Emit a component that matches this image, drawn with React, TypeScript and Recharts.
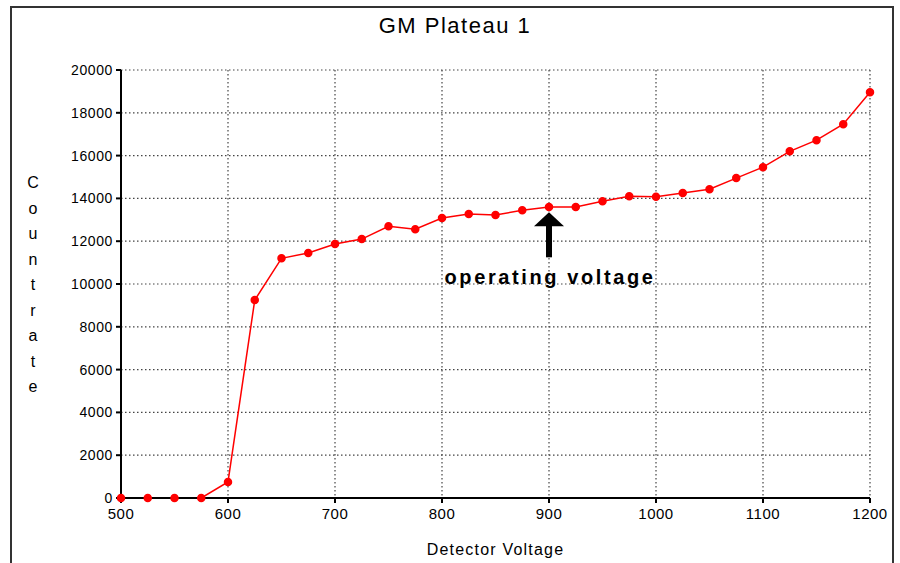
import React from 'react';
import { LineChart, Line, XAxis, YAxis, CartesianGrid, ReferenceDot } from 'recharts';

const voltages = [
  500, 525, 550, 575, 600, 625, 650, 675, 700, 725, 750, 775, 800, 825, 850,
  875, 900, 925, 950, 975, 1000, 1025, 1050, 1075, 1100, 1125, 1150, 1175, 1200,
];
const countRates = [
  0, 0, 0, 0, 750, 9250, 11200, 11450, 11870, 12100, 12700, 12560, 13080, 13270, 13220,
  13450, 13600, 13600, 13870, 14100, 14080, 14250, 14430, 14950, 15460, 16200, 16720, 17470, 18960,
];
const xTicks = [500, 600, 700, 800, 900, 1000, 1100, 1200];
const yTicks = [0, 2000, 4000, 6000, 8000, 10000, 12000, 14000, 16000, 18000, 20000];
const yLabelLetters = ['C', 'o', 'u', 'n', 't', 'r', 'a', 't', 'e'];

const arrowVoltage = 900;
const arrowTipRate = 13350;
const annotationText = 'operating voltage';

const data = voltages.map((v, i) => ({ voltage: v, rate: countRates[i] }));

const font = '"Liberation Sans", Arial, sans-serif';

// arrow pointing up at the chosen voltage, with the caption under it
function OperatingArrow(props: any) {
  const { cx, cy } = props;
  if (cx == null || cy == null) return null;
  return (
    <g>
      <polygon points={`${cx},${cy} ${cx - 15},${cy + 14} ${cx + 15},${cy + 14}`} fill="#000" />
      <rect x={cx - 3} y={cy + 13} width={6} height={32} fill="#000" />
      <text
        x={cx + 1}
        y={cy + 72}
        textAnchor="middle"
        fontFamily={font}
        fontWeight="bold"
        fontSize={20}
        letterSpacing={2.6}
        fill="#000"
      >
        {annotationText}
      </text>
    </g>
  );
}

function StackedLabel(props: any) {
  const { viewBox } = props;
  const x = 33;
  const startY = viewBox ? viewBox.y + 118 : 188;
  return (
    <g>
      {yLabelLetters.map((ch, i) => (
        <text
          key={i}
          x={x}
          y={startY + i * 25.5}
          textAnchor="middle"
          fontFamily={font}
          fontSize={16}
          fill="#000"
        >
          {ch}
        </text>
      ))}
    </g>
  );
}

export default function App() {
  return (
    <div style={{ position: 'absolute', left: 0, top: 0, width: 900, height: 563, background: '#fff', overflow: 'hidden' }}>
      <div
        style={{
          position: 'absolute',
          left: 10,
          top: 6,
          width: 884,
          height: 580,
          border: '2px solid #333',
          boxSizing: 'border-box',
        }}
      />
      <div
        style={{
          position: 'absolute',
          left: 0,
          top: 13,
          width: 910,
          textAlign: 'center',
          fontFamily: font,
          fontSize: 22,
          letterSpacing: 1.5,
          color: '#000',
        }}
      >
        GM Plateau 1
      </div>
      <div style={{ position: 'absolute', left: 0, top: 0 }}>
        <LineChart width={900} height={563} data={data} margin={{ top: 70, right: 30, bottom: 0, left: 0 }}>
          <CartesianGrid stroke="#444" strokeDasharray="1.5 2.5" strokeWidth={1.2} />
          <XAxis
            dataKey="voltage"
            type="number"
            domain={[500, 1200]}
            ticks={xTicks}
            height={65}
            stroke="#000"
            strokeWidth={2}
            tickSize={5}
            tickMargin={5}
            tick={{ fill: '#000', fontFamily: font, fontSize: 15, letterSpacing: 0.5 }}
            label={{ value: 'Detector Voltage', position: 'insideBottom', offset: 8, fill: '#000', fontFamily: font, fontSize: 16, letterSpacing: 1.2 }}
          />
          <YAxis
            type="number"
            domain={[0, 20000]}
            ticks={yTicks}
            width={121}
            stroke="#000"
            strokeWidth={2}
            tickSize={5}
            tickMargin={3}
            tick={{ fill: '#000', fontFamily: font, fontSize: 14, letterSpacing: 0.6 }}
            label={<StackedLabel />}
          />
          <Line
            dataKey="rate"
            stroke="#ff0000"
            strokeWidth={1.5}
            dot={{ r: 3.5, fill: '#ff0000', stroke: '#ff0000' }}
            isAnimationActive={false}
          />
          <ReferenceDot x={arrowVoltage} y={arrowTipRate} shape={<OperatingArrow />} />
        </LineChart>
      </div>
    </div>
  );
}
